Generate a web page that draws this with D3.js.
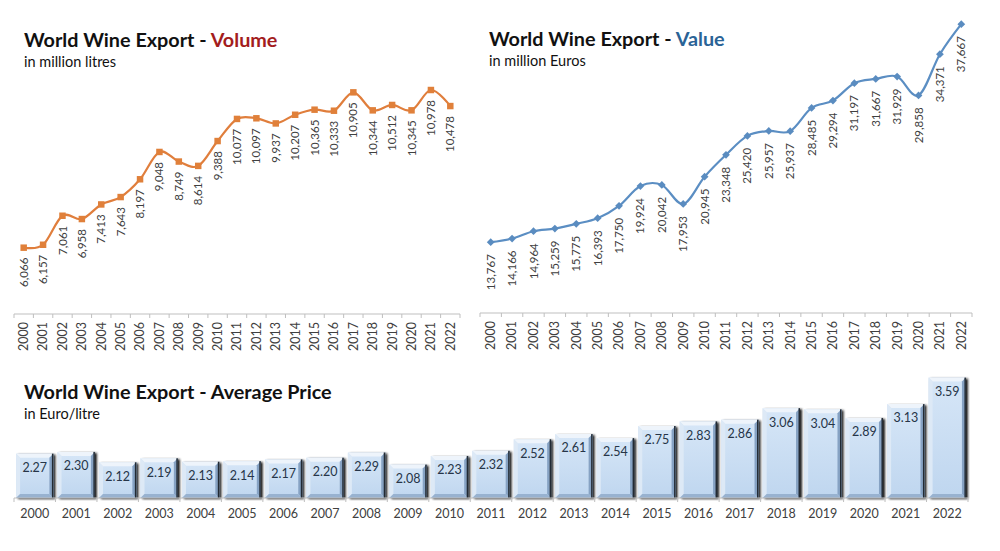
<!DOCTYPE html>
<html>
<head>
<meta charset="utf-8">
<script src="https://cdn.jsdelivr.net/npm/d3@7"></script>
<style>
  body { margin: 0; background: #fff; }
  svg { display: block; font-family: Lato, "Open Sans", sans-serif; }
</style>
</head>
<body>
<div id="chart"></div>
<script>
var years = ["2000","2001","2002","2003","2004","2005","2006","2007","2008","2009","2010","2011",
             "2012","2013","2014","2015","2016","2017","2018","2019","2020","2021","2022"];
var volume = [6066, 6157, 7061, 6958, 7413, 7643, 8197, 9048, 8749, 8614, 9388, 10077,
              10097, 9937, 10207, 10365, 10333, 10905, 10344, 10512, 10345, 10978, 10478];
var value = [13767, 14166, 14964, 15259, 15775, 16393, 17750, 19924, 20042, 17953, 20945, 23348,
             25420, 25957, 25937, 28485, 29294, 31197, 31667, 31929, 29858, 34371, 37667];
var price = [2.27, 2.30, 2.12, 2.19, 2.13, 2.14, 2.17, 2.20, 2.29, 2.08, 2.23, 2.32,
             2.52, 2.61, 2.54, 2.75, 2.83, 2.86, 3.06, 3.04, 2.89, 3.13, 3.59];

var W = 1000, H = 551;
var AXIS = "#bfbfbf", LABEL = "#404040";
var fmt = d3.format(",");

var svg = d3.select("#chart").append("svg")
    .attr("width", W).attr("height", H)
    .attr("viewBox", [0, 0, W, H]);

var defs = svg.append("defs");
var grad = defs.append("linearGradient").attr("id", "face")
    .attr("x1", 0).attr("y1", 0).attr("x2", 0).attr("y2", 1);
grad.append("stop").attr("offset", "0%").attr("stop-color", "#d6e6f7");
grad.append("stop").attr("offset", "100%").attr("stop-color", "#bfd6ef");
defs.append("filter").attr("id", "blur").attr("x", "-20%").attr("y", "-20%")
    .attr("width", "140%").attr("height", "140%")
  .append("feGaussianBlur").attr("stdDeviation", 1.2);

function title(x, y, main, accent, color, sub) {
  var t = svg.append("text").attr("x", x).attr("y", y)
      .attr("font-size", 19.8).attr("font-weight", "bold").attr("fill", "#111");
  t.append("tspan").text(main);
  if (accent) t.append("tspan").attr("fill", color).text(accent);
  svg.append("text").attr("x", x).attr("y", y + 20)
      .attr("font-size", 14.5).attr("fill", "#111").text(sub);
}

// band axis with ticks at category boundaries and rotated/horizontal year labels
function bandAxis(g, x, y0, rotated) {
  g.append("line").attr("x1", x.range()[0]).attr("x2", x.range()[1])
      .attr("y1", y0).attr("y2", y0).attr("stroke", AXIS);
  var edges = years.map(d => x(d)).concat([x.range()[1]]);
  g.selectAll(".tk").data(edges).enter().append("line")
      .attr("x1", d => d).attr("x2", d => d)
      .attr("y1", y0).attr("y2", y0 + 4).attr("stroke", AXIS);
  var lab = g.selectAll(".yr").data(years).enter().append("text")
      .attr("fill", LABEL).attr("font-size", 12.5).text(d => d);
  if (rotated) {
    lab.attr("text-anchor", "end").attr("dy", "0.35em")
       .attr("transform", d => "translate(" + (x(d) + x.bandwidth() / 2) + "," + (y0 + 8) + ") rotate(-90)");
  } else {
    lab.attr("text-anchor", "middle")
       .attr("x", d => x(d) + x.bandwidth() / 2).attr("y", y0 + 20);
  }
}

function lineChart(opt) {
  var x = d3.scaleBand().domain(years).range(opt.xr).padding(0);
  var y = d3.scaleLinear().domain(opt.dom).range([opt.base, opt.top]);
  var g = svg.append("g");
  bandAxis(g, x, opt.base, true);
  var cx = d => x(d) + x.bandwidth() / 2;
  var line = d3.line().x((d, i) => cx(years[i])).y(d => y(d)).curve(d3.curveCardinal.tension(0));
  g.append("path").datum(opt.data).attr("d", line)
      .attr("fill", "none").attr("stroke", opt.color).attr("stroke-width", 2.2);
  var sym = d3.symbol().type(opt.symbol).size(opt.symSize);
  g.selectAll(".mk").data(opt.data).enter().append("path")
      .attr("d", sym).attr("fill", opt.mcolor)
      .attr("transform", (d, i) => "translate(" + cx(years[i]) + "," + y(d) + ")" + (opt.rot ? " rotate(45)" : ""));
  g.selectAll(".lb").data(opt.data).enter().append("text")
      .attr("fill", LABEL).attr("font-size", 11.5)
      .attr("text-anchor", "end").attr("dy", "0.35em")
      .attr("transform", (d, i) => "translate(" + cx(years[i]) + "," + (y(d) + opt.off) + ") rotate(-90)")
      .text(d => fmt(d));
}

title(24, 47, "World Wine Export - ", "Volume", "#a31d1d", "in million litres");
lineChart({xr: [14, 460], dom: [4000, 12000], base: 314, top: 57.2, data: volume,
           color: "#e07e3c", mcolor: "#e0803a", symbol: d3.symbolSquare, symSize: 42, off: 10});

title(489, 46, "World Wine Export - ", "Value", "#2a6396", "in million Euros");
lineChart({xr: [480, 972], dom: [6000, 40000], base: 313, top: 2.9, data: value,
           color: "#5b8ec3", mcolor: "#5a8cc0", symbol: d3.symbolSquare, symSize: 30, rot: true, off: 12});

// average price bars
title(24, 399, "World Wine Export - Average Price", null, null, "in Euro/litre");
var xb = d3.scaleBand().domain(years).range([14, 968]).paddingInner(0.1).paddingOuter(0.05);
var yb = d3.scaleLinear().domain([1.5, 4]).range([498, 354]);
var gb = svg.append("g");
var bars = gb.selectAll(".bar").data(price).enter().append("g")
    .attr("transform", (d, i) => "translate(" + xb(years[i]) + "," + yb(d) + ")");
var bw = xb.bandwidth(), bv = 4;
var bh = d => yb.range()[0] - yb(d);
bars.append("rect").attr("x", 2).attr("y", 1).attr("width", bw).attr("height", d => bh(d))
    .attr("fill", "#1a1a1a").attr("filter", "url(#blur)");
bars.append("rect").attr("width", bw).attr("height", d => bh(d)).attr("fill", "url(#face)");
bars.append("path").attr("fill", "#eef4fb")
    .attr("d", d => "M0,0H" + bw + "L" + (bw - bv) + "," + bv + "H" + bv + "Z");
bars.append("path").attr("fill", "#dde9f6")
    .attr("d", d => "M0,0L" + bv + "," + bv + "V" + (bh(d) - bv) + "L0," + bh(d) + "Z");
bars.append("path").attr("fill", "#86a2c3")
    .attr("d", d => "M" + bw + ",0V" + bh(d) + "L" + (bw - bv) + "," + (bh(d) - bv) + "V" + bv + "Z");
bars.append("path").attr("fill", "#98b2d0")
    .attr("d", d => "M0," + bh(d) + "H" + bw + "L" + (bw - bv) + "," + (bh(d) - bv) + "H" + bv + "Z");
bars.append("rect").attr("x", bw - 1.5).attr("width", 1.5).attr("height", d => bh(d)).attr("fill", "#222a33");
bars.append("text").attr("x", bw / 2).attr("y", 14).attr("dy", "0.35em")
    .attr("text-anchor", "middle").attr("font-size", 12.5).attr("fill", "#263548")
    .text(d => d.toFixed(2));

var xa = d3.scaleBand().domain(years).range([14, 968]);
bandAxis(gb, xa, 498, false);
</script>
</body>
</html>
